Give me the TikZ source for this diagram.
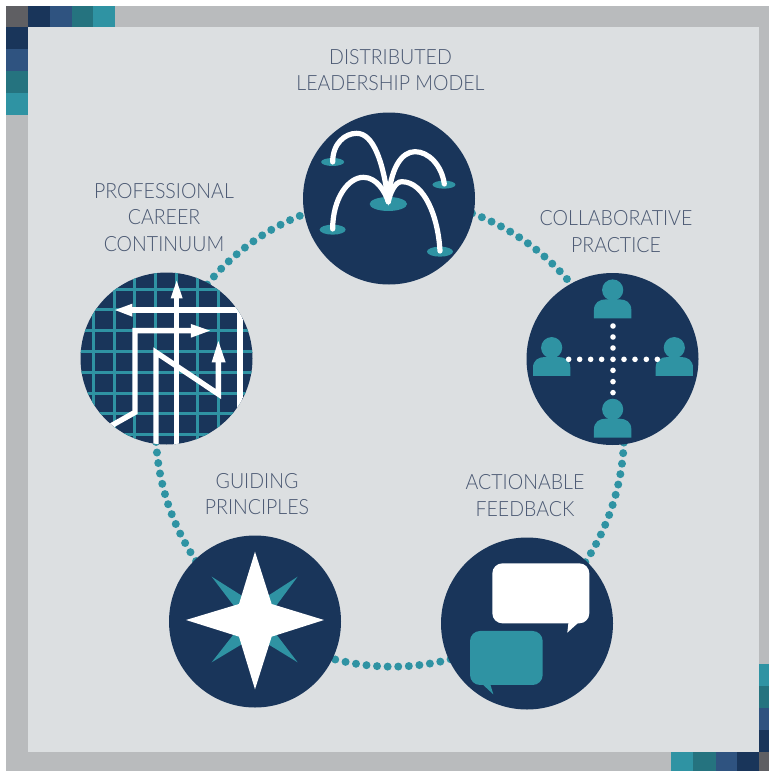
\documentclass[tikz,border=0pt]{standalone}
\usepackage{fontspec}
\setmainfont{Lato Light}[FakeStretch=0.93]
\pgfdeclarelayer{backlayer}
\pgfsetlayers{backlayer,main}
\definecolor{navy}{HTML}{19355A}
\definecolor{blueb}{HTML}{2F5380}
\definecolor{tealdark}{HTML}{25737F}
\definecolor{teal}{HTML}{2F93A3}
\definecolor{band}{HTML}{B9BBBD}
\definecolor{panel}{HTML}{DCDFE1}
\definecolor{cornergrey}{HTML}{5F5F63}
\definecolor{ink}{HTML}{4A5872}
\tikzset{
  disc/.style={circle,fill=navy,inner sep=0pt,minimum size=172pt},
  caption/.style={text=ink,align=center,inner sep=0pt,font=\fontsize{21}{26.5}\selectfont},
  dotlink/.style={teal,line width=8pt,line cap=round,dash pattern=on 0pt off 10.6pt,looseness=.94},
  person/.pic={
    \fill[teal] (0,0) circle (10.6pt);
    \fill[teal] (-56,85) -- (-56,60) .. controls (-56,38) and (-40,28) .. (-20,28) -- (20,28)
      .. controls (40,28) and (56,38) .. (56,60) -- (56,85) -- cycle;
  },
  jet/.style={white,line width=5.2pt,line cap=round},
  route/.style={white,line width=5.4pt,line join=miter},
  zoomed/.style={x=.3333pt,y=-.3333pt}
}
\begin{document}
\begin{tikzpicture}[x=1pt,y=-1pt]
\useasboundingbox (0,0) rectangle (769,771);
% discs
\node[disc] (fountain) at (389,198.5) {};
\node[disc] (team) at (612.5,359) {};
\node[disc] (speech) at (527,623.5) {};
\node[disc] (compass) at (255,621.5) {};
\node[disc] (career) at (166.5,358.5) {};
\begin{pgfonlayer}{backlayer}
% frame
\fill[white] (0,0) rectangle (769,771);
\fill[band] (5.5,6) rectangle (769,771);
\fill[panel] (27.5,27) rectangle (759,752);
\fill[cornergrey] (5.5,6) rectangle (27.5,27);
\fill[navy] (27.5,6) rectangle (50,27);
\fill[blueb] (50,6) rectangle (72,27);
\fill[tealdark] (72,6) rectangle (93,27);
\fill[teal] (93,6) rectangle (115,27);
\fill[navy] (5.5,27) rectangle (27.5,49);
\fill[blueb] (5.5,49) rectangle (27.5,71);
\fill[tealdark] (5.5,71) rectangle (27.5,93);
\fill[teal] (5.5,93) rectangle (27.5,115);
\fill[cornergrey] (759,752) rectangle (769,771);
\fill[navy] (737,752) rectangle (759,771);
\fill[blueb] (715.5,752) rectangle (737,771);
\fill[tealdark] (693,752) rectangle (715.5,771);
\fill[teal] (671,752) rectangle (693,771);
\fill[navy] (759,730) rectangle (769,752);
\fill[blueb] (759,708) rectangle (769,730);
\fill[tealdark] (759,686) rectangle (769,708);
\fill[teal] (759,664) rectangle (769,686);
% dotted ring
\draw[dotlink] (fountain.center) to[bend left=36] (team.center);
\draw[dotlink] (team.center) to[bend left=36] (speech.center);
\draw[dotlink] (speech.center) to[bend left=36] (compass.center);
\draw[dotlink] (compass.center) to[bend left=36] (career.center);
\draw[dotlink] (career.center) to[bend left=36] (fountain.center);
\end{pgfonlayer}
% captions
\node[caption] (capa) at (390.5,70) {DISTRIBUTED\\LEADERSHIP MODEL};
\node[caption] (capb) at (616,231.5) {COLLABORATIVE\\PRACTICE};
\node[caption] (capc) at (525,495.5) {ACTIONABLE\\FEEDBACK};
\node[caption] (capd) at (257,494) {GUIDING\\PRINCIPLES};
\node[caption] (cape) at (164,217.5) {PROFESSIONAL\\CAREER\\CONTINUUM};
% fountain icon
\begin{scope}[shift={(295,105)},zoomed]
\fill[teal] (280,297) ellipse (18.7pt and 7pt);
\fill[teal] (113,171) ellipse (11.5pt and 4pt);
\fill[teal] (447,239) ellipse (11.5pt and 4pt);
\fill[teal] (113,374) ellipse (13pt and 5pt);
\fill[teal] (435,440) ellipse (13pt and 5pt);
\draw[jet] (113,171) .. controls (113,115) and (150,85) .. (185,85) .. controls (235,85) and (265,170) .. (280,290);
\draw[jet] (448,237) .. controls (440,180) and (400,140) .. (360,140) .. controls (320,140) and (285,190) .. (280,290);
\draw[jet] (113,372) .. controls (113,280) and (160,217) .. (205,217) .. controls (245,217) and (270,260) .. (280,290);
\draw[jet] (435,438) .. controls (430,340) and (390,230) .. (320,230) .. controls (300,230) and (285,265) .. (280,290);
\fill[white] (262,245) -- (298,245) -- (281,302) -- cycle;
\end{scope}
% career grid icon
\begin{scope}
\clip (career.center) circle (86pt);
\begin{scope}[shift={(70,265)},zoomed]
\foreach \g in {70,132.5,195,257.5,320,382.5,445,507.5}
  \draw[teal,line width=3pt] (\g,0) -- (\g,570);
\foreach \g in {72,134.5,197,259.5,322,384.5,447,509.5}
  \draw[teal,line width=3pt] (0,\g) -- (570,\g);
\draw[route] (185,135) -- (510,135) -- (510,430);
\fill[white] (135,135) -- (187,116) -- (187,155) -- cycle;
\draw[route] (110,490) -- (195,442) -- (195,197) -- (370,197);
\fill[white] (420,197) -- (363,177) -- (363,218) -- cycle;
\draw[route] (320,560) -- (320,95);
\fill[white] (320,47) -- (302,100) -- (338,100) -- cycle;
\draw[route] (258,560) -- (258,262) -- (445,387) -- (445,285);
\fill[white] (445,228) -- (425,292) -- (467,292) -- cycle;
\end{scope}
\end{scope}
% team icon
\begin{scope}[shift={(520,265)},zoomed]
\foreach \hx/\hy in {278/75,95/248,463/248,278/433}
  \pic at (\hx,\hy) {person};
\foreach \g in {183,216,249,316,350,383}
  \fill[white] (279,\g) circle (2.8pt);
\foreach \g in {146,179,212,245,279,312,345,379,412}
  \fill[white] (\g,283) circle (2.8pt);
\end{scope}
% compass icon
\begin{scope}[shift={(160,530)},zoomed]
\fill[teal] (155,140) -- (250,200) -- (228,236) -- cycle;
\fill[teal] (413,140) -- (320,200) -- (342,236) -- cycle;
\fill[teal] (413,397) -- (342,304) -- (320,340) -- cycle;
\fill[teal] (155,397) -- (228,304) -- (250,340) -- cycle;
\fill[white] (285,65) -- (335,222) -- (492,270) -- (335,320) -- (285,478) -- (237,320) -- (78,270) -- (237,222) -- cycle;
\end{scope}
% speech icon
\begin{scope}[shift={(430,530)},zoomed]
\fill[white,rounded corners=10pt] (187,100) rectangle (478,280);
\fill[white] (476,250) -- (412,308) -- (416,272) -- (450,270) -- cycle;
\fill[teal,rounded corners=10pt] (120,303) rectangle (338,465);
\fill[teal] (122,430) -- (190,493) -- (180,460) -- (140,460) -- cycle;
\end{scope}
\end{tikzpicture}
\end{document}
